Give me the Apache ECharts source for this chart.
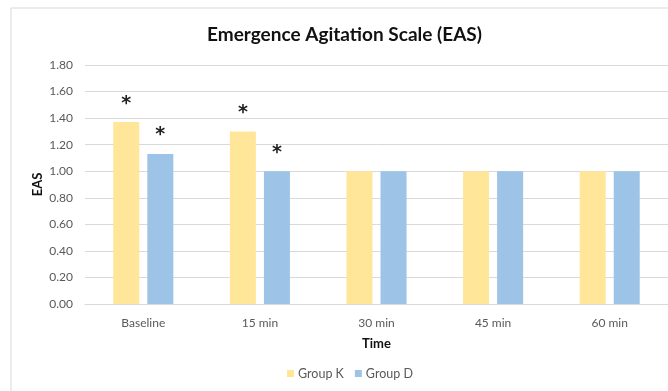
<!DOCTYPE html>
<html>
<head>
<meta charset="utf-8">
<script src="https://cdn.jsdelivr.net/npm/echarts@6/dist/echarts.min.js"></script>
<style>
  html, body { margin: 0; padding: 0; background: #fff; }
  #chart { width: 668px; height: 391px; }
</style>
</head>
<body>
<div id="chart"></div>
<script>
// data
const categories = ['Baseline', '15 min', '30 min', '45 min', '60 min']
const groupK = [1.37, 1.30, 1.00, 1.00, 1.00]
const groupD = [1.13, 1.00, 1.00, 1.00, 1.00]
// significance marks (asterisks) per bar
const markK = ['*', '*', '', '', '']
const markD = ['*', '*', '', '', '']

const yellow = '#FFE699'
const blue = '#9DC3E6'
const font = 'Lato, "Open Sans", sans-serif'

const myChart = echarts.init(document.getElementById('chart'))

function starLabel (marks) {
  return {
    show: true,
    position: 'top',
    distance: 9,
    color: '#222',
    fontSize: 19,
    fontWeight: 'bold',
    fontFamily: 'DejaVu Sans',
    formatter: p => marks[p.dataIndex]
  }
}

const option = {
  animation: false,
  backgroundColor: '#fff',
  graphic: [
    {
      type: 'rect',
      shape: { x: 11, y: 8, width: 700, height: 400 },
      style: { fill: 'none', stroke: '#d9d9d9', lineWidth: 1 },
      silent: true
    }
  ],
  title: {
    text: 'Emergence Agitation Scale (EAS)',
    left: 202,
    top: 20,
    textStyle: {
      fontFamily: font,
      fontSize: 19,
      fontWeight: 'bold',
      color: '#111'
    }
  },
  legend: {
    bottom: 6,
    left: 282,
    itemWidth: 7,
    itemHeight: 7,
    itemGap: 11,
    icon: 'rect',
    textStyle: { color: '#595959', fontSize: 12.5, fontFamily: font, padding: [0, 0, 0, -1] },
    data: ['Group K', 'Group D']
  },
  grid: {
    left: 85,
    top: 65,
    width: 592,
    height: 239
  },
  xAxis: {
    type: 'category',
    data: categories,
    name: 'Time',
    nameLocation: 'middle',
    nameGap: 33,
    nameMoveOverlap: false,
    nameTextStyle: { fontFamily: font, fontSize: 13, fontWeight: 'bold', color: '#111' },
    axisLine: { lineStyle: { color: '#d9d9d9' } },
    axisTick: { show: false },
    axisLabel: { color: '#595959', fontSize: 12, fontFamily: font, margin: 13 }
  },
  yAxis: {
    type: 'value',
    min: 0,
    max: 1.8,
    interval: 0.2,
    name: 'EAS',
    nameLocation: 'middle',
    nameGap: 41,
    nameMoveOverlap: false,
    nameTextStyle: { fontFamily: font, fontSize: 13, fontWeight: 'bold', color: '#111' },
    axisLine: { show: false },
    axisTick: { show: false },
    splitLine: { lineStyle: { color: '#d9d9d9' } },
    axisLabel: {
      color: '#595959',
      fontSize: 12,
      fontFamily: font,
      margin: 12,
      formatter: v => v.toFixed(2)
    }
  },
  series: [
    {
      name: 'Group K',
      type: 'bar',
      data: groupK,
      barWidth: 26,
      barGap: '31%',
      itemStyle: { color: yellow },
      label: starLabel(markK)
    },
    {
      name: 'Group D',
      type: 'bar',
      data: groupD,
      barWidth: 26,
      itemStyle: { color: blue },
      label: starLabel(markD)
    }
  ]
}

myChart.setOption(option)
</script>
</body>
</html>
